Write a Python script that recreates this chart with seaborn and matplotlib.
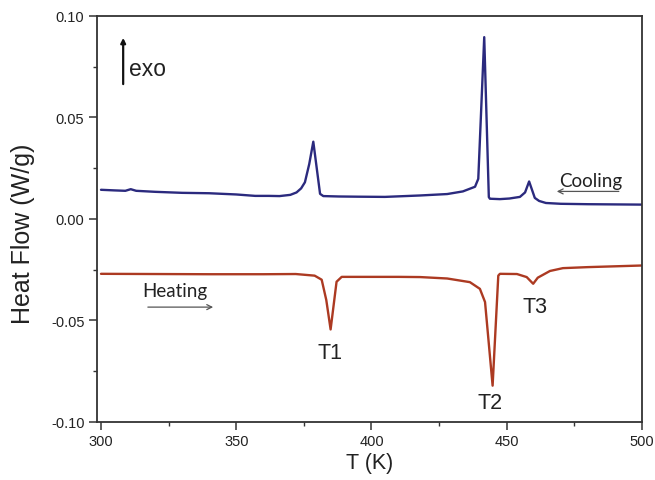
import matplotlib
matplotlib.use("Agg")
import matplotlib.pyplot as plt
import seaborn as sns
import pandas as pd
from matplotlib.ticker import MultipleLocator

# ---- data ----
cool_T = [300, 305, 309, 311, 313, 320, 330, 340, 350, 357, 362, 366, 370, 372.3, 374,
          375.4, 377, 378.5, 381, 382.2, 388, 395, 405, 418, 428, 433.8, 438.3, 439.5, 441.7,
          443.4, 443.8, 447.5, 451, 454.9, 456.8, 458.3, 460.4, 462, 464.5, 470, 480, 490, 500]
cool_Q = [0.0143, 0.0140, 0.0138, 0.0146, 0.0138, 0.0133, 0.0128, 0.0126, 0.0120, 0.0113,
          0.0113, 0.0112, 0.0118, 0.0130, 0.0150, 0.0180, 0.0270, 0.0380, 0.0123, 0.0112,
          0.0110, 0.0109, 0.0108, 0.0115, 0.0122, 0.0135, 0.0158, 0.0197, 0.0895,
          0.0107, 0.0099, 0.0097, 0.0100, 0.0108, 0.0130, 0.0184, 0.0103, 0.0088, 0.0078,
          0.0074, 0.0072, 0.0071, 0.0070]

heat_T = [300, 320, 340, 360, 372, 379, 381.6, 383.3, 384.9, 387.1, 389, 400, 410, 418,
          428, 436.4, 440.1, 442, 444.8, 446.9, 447.5, 453.8, 457.4, 459.8, 461.5, 466, 470.8,
          480, 490, 500]
heat_Q = [-0.0271, -0.0272, -0.0273, -0.0273, -0.0272, -0.0280, -0.0300, -0.0400, -0.0545,
          -0.0310, -0.0286, -0.0286, -0.0286, -0.0287, -0.0294, -0.0312, -0.0345, -0.0410,
          -0.0822, -0.0280, -0.0271, -0.0272, -0.0287, -0.0320, -0.0290, -0.0257, -0.0243,
          -0.0238, -0.0234, -0.0230]

x_ticks = [300, 350, 400, 450, 500]
y_ticks = [-0.10, -0.05, 0.00, 0.05, 0.10]
y_tick_labels = ["-0.10", "-0.05", "0.00", "0.05", "0.10"]
peak_labels = ["T1", "T2", "T3"]
peak_label_T = [384.8, 444.0, 460.3]
peak_label_Q = [-0.0658, -0.0905, -0.0430]

cool_df = pd.DataFrame({"T": cool_T, "Q": cool_Q})
heat_df = pd.DataFrame({"T": heat_T, "Q": heat_Q})

sns.set_style("ticks")
plt.rcParams["font.family"] = ["Liberation Sans", "DejaVu Sans"]

fig = plt.figure(figsize=(6.55, 4.81), dpi=100)
ax = fig.add_axes([0.148, 0.121, 0.832, 0.844])

sns.lineplot(data=cool_df, x="T", y="Q", ax=ax, color="#2b2a7e", lw=1.7,
             estimator=None, sort=False)
sns.lineplot(data=heat_df, x="T", y="Q", ax=ax, color="#ac3a22", lw=1.7,
             estimator=None, sort=False)

ax.set_xlim(298.5, 500)
ax.set_ylim(-0.10, 0.10)
ax.set_xticks(x_ticks)
ax.set_yticks(y_ticks)
ax.set_yticklabels(y_tick_labels)
ax.xaxis.set_minor_locator(MultipleLocator(25))
ax.yaxis.set_minor_locator(MultipleLocator(0.025))
ax.tick_params(which="major", direction="out", length=6, width=1.1, colors="#333333",
               labelsize=10.5, labelcolor="#222222", pad=3)
ax.tick_params(which="minor", direction="out", length=3, width=1.0, colors="#333333")
for s in ax.spines.values():
    s.set_visible(True)
    s.set_linewidth(1.3)
    s.set_color("#333333")

ax.set_xlabel("T (K)", fontsize=15.5, color="#222222", labelpad=3)
ax.set_ylabel("Heat Flow (W/g)", fontsize=18, color="#222222")
ax.yaxis.set_label_coords(-0.136, 0.466)
ax.yaxis.label.set_verticalalignment("center")

# exo arrow
ax.annotate("", xy=(308.2, 0.0905), xytext=(308.2, 0.065),
            arrowprops=dict(arrowstyle="-|>", color="#111111", lw=1.6, mutation_scale=7))
ax.text(310.3, 0.0740, "exo", fontsize=16.5, color="#222222", va="center", ha="left")

# cooling
ax.text(469.5, 0.0190, "Cooling", fontsize=13.5, family=["Lato", "DejaVu Sans"],
        color="#222222", va="center", ha="left")
ax.annotate("", xy=(467.5, 0.0135), xytext=(492.5, 0.0135),
            arrowprops=dict(arrowstyle="->", color="#555555", lw=0.9, mutation_scale=9))

# heating
ax.text(315.2, -0.0355, "Heating", fontsize=13.5, family=["Lato", "DejaVu Sans"],
        color="#222222", va="center", ha="left")
ax.annotate("", xy=(342.5, -0.0435), xytext=(316.3, -0.0435),
            arrowprops=dict(arrowstyle="->", color="#555555", lw=0.9, mutation_scale=9))

for lab, t, q in zip(peak_labels, peak_label_T, peak_label_Q):
    ax.text(t, q, lab, fontsize=15.5, color="#222222", ha="center", va="center")

fig.savefig("out.png", dpi=100)
